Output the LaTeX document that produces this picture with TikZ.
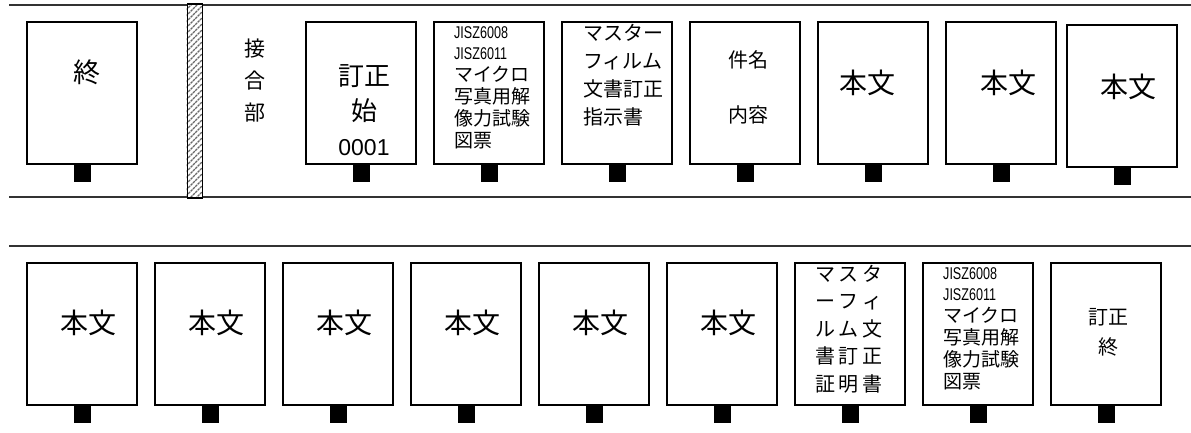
\documentclass[tikz,border=0pt]{standalone}
\usepackage{graphicx}
\usepackage{fontspec}
\setmainfont{Noto Sans CJK JP}
\newfontfamily\arialf{Liberation Sans}
\newcommand{\jis}[1]{{\arialf\fontsize{17}{21.8}\selectfont\scalebox{0.74}[1]{#1}}}
\newcommand{\gp}{\hspace{3.5pt}}
\tikzset{
  page/.style={draw, line width=1.8pt, fill=white, minimum width=110pt, minimum height=142pt, inner sep=0pt},
  tab/.style={fill=black, minimum width=17pt, minimum height=17pt, inner sep=0pt, anchor=north},
  rule/.style={line width=1.5pt, draw=black!80},
  lbl/.style={inner sep=0pt},
  big/.style={inner sep=0pt, font=\fontsize{28}{30}\selectfont},
}
\begin{document}
\begin{tikzpicture}[x=1pt,y=-1pt]
\useasboundingbox (0,0) rectangle (1191,432);
% rules
\coordinate (r1a) at (9,5);   \coordinate (r1b) at (1191,5);
\coordinate (r2a) at (9,197); \coordinate (r2b) at (1191,197);
\coordinate (r3a) at (9,246); \coordinate (r3b) at (1191,246);
\draw[rule] (r1a) -- (r1b);
\draw[rule] (r2a) -- (r2b);
\draw[rule] (r3a) -- (r3b);
% joint strip
\node[draw, line width=1.5pt, fill=white, minimum width=15pt, minimum height=194pt, inner sep=0pt, anchor=north west] (strip) at (186.5,3) {};
\begin{scope}
  \clip (strip.south west) rectangle (strip.north east);
  \foreach \i in {0,...,34}
    \draw[black!60, line width=1.3pt, dash pattern=on 2.5pt off 0.8pt] (186,10+\i*6) -- ++(16,-16);
\end{scope}
\node[draw, line width=1.5pt, minimum width=15pt, minimum height=194pt, inner sep=0pt, anchor=north west] (stripb) at (186.5,3) {};
% top row boxes
\foreach \n/\x/\y in {a1/82/93, a2/361/93, a3/489/93, a4/617/93, a5/745/93, a6/873/93, a7/1001/93, a8/1122/96}{
  \node[page] (\n) at (\x,\y) {};
  \node[tab] (\n t) at (\n.south) {};
}
% bottom row boxes
\foreach \n/\x in {b1/82, b2/210, b3/338, b4/466, b5/594, b6/722, b7/850, b8/978, b9/1106}{
  \node[page] (\n) at (\x,334) {};
  \node[tab] (\n t) at (\n.south) {};
}
% top row texts
\node[lbl, font=\fontsize{27}{30}\selectfont] (ta1) at (87,72) {終};
\node[lbl, align=center, font=\fontsize{21}{32}\selectfont] (tj) at (255,81) {接\\合\\部};
\node[lbl, align=center, font=\fontsize{26}{35}\selectfont] (ta2) at (364,110) {訂正\\始\\{\arialf\fontsize{23}{35}\selectfont 0001}};
\node[lbl, align=left, anchor=north west, font=\fontsize{19}{21.8}\selectfont] (ta3) at (454,26) {\jis{JISZ6008}\\\jis{JISZ6011}\\マイクロ\\写真用解\\像力試験\\図票};
\node[lbl, align=left, anchor=north west, font=\fontsize{20}{28}\selectfont] (ta4) at (583,24) {マスター\\フィルム\\文書訂正\\指示書};
\node[lbl, align=center, font=\fontsize{20}{55}\selectfont] (ta5) at (748,87.5) {件名\\内容};
\node[big] (ta6) at (867,83) {本文};
\node[big] (ta7) at (1008,83) {本文};
\node[big] (ta8) at (1128,87) {本文};
% bottom row texts
\node[big] (tb1) at (88,323) {本文};
\node[big] (tb2) at (216,323) {本文};
\node[big] (tb3) at (344,323) {本文};
\node[big] (tb4) at (472,323) {本文};
\node[big] (tb5) at (600,323) {本文};
\node[big] (tb6) at (728,323) {本文};
\node[lbl, align=left, anchor=north west, font=\fontsize{20}{27.5}\selectfont] (tb7) at (815,265) {マ\gp ス\gp タ\\ー\gp フ\gp ィ\\ル\gp ム\gp 文\\書\gp 訂\gp 正\\証\gp 明\gp 書};
\node[lbl, align=left, anchor=north west, font=\fontsize{19}{21.8}\selectfont] (tb8) at (943,267) {\jis{JISZ6008}\\\jis{JISZ6011}\\マイクロ\\写真用解\\像力試験\\図票};
\node[lbl, align=center, font=\fontsize{20}{30}\selectfont] (tb9) at (1108,332) {訂正\\終};
\end{tikzpicture}
\end{document}
